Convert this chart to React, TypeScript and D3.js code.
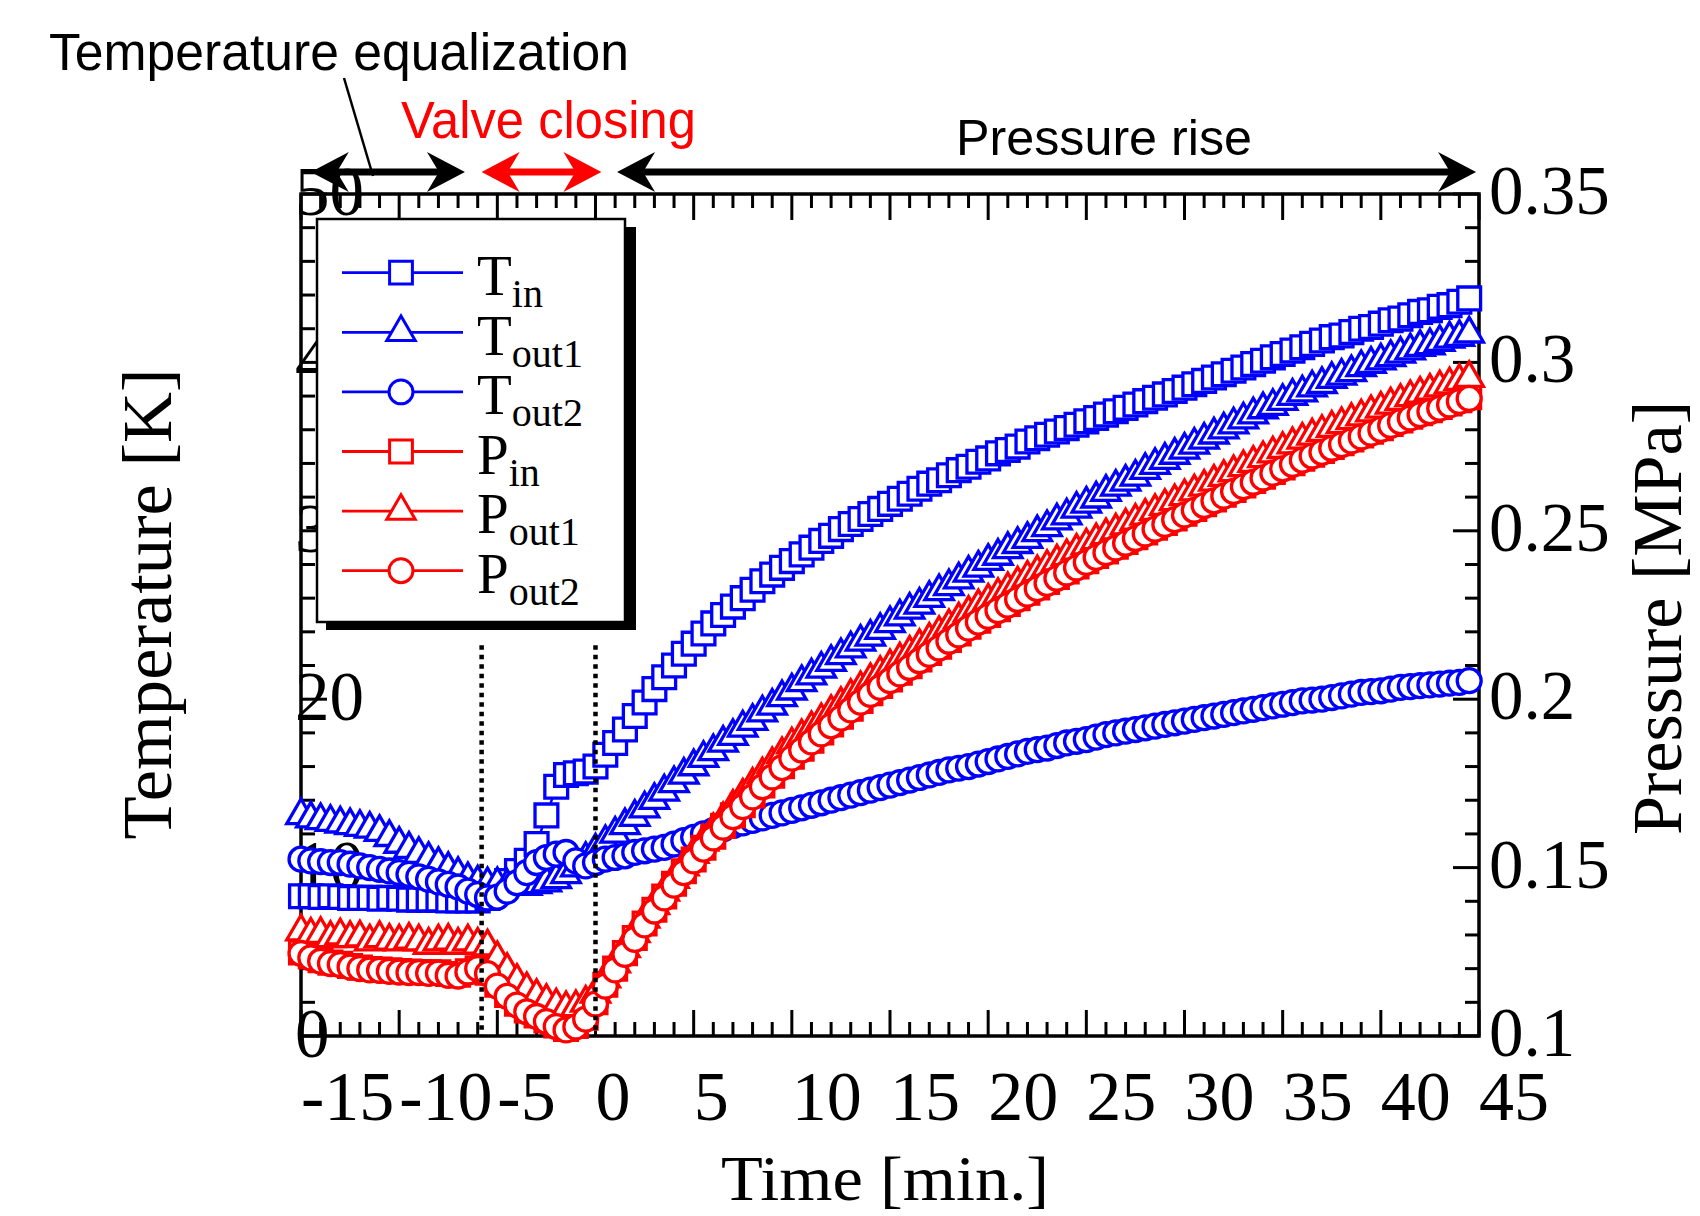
import React, { useEffect, useRef } from "react";
import * as d3 from "d3";

// time [min.], sampled every 30 s
const times = [
  -15, -14.5, -14, -13.5, -13, -12.5, -12, -11.5, -11, -10.5,
  -10, -9.5, -9, -8.5, -8, -7.5, -7, -6.5, -6, -5.5,
  -5, -4.5, -4, -3.5, -3, -2.5, -2, -1.5, -1, -0.5,
  0, 0.5, 1, 1.5, 2, 2.5, 3, 3.5, 4, 4.5,
  5, 5.5, 6, 6.5, 7, 7.5, 8, 8.5, 9, 9.5,
  10, 10.5, 11, 11.5, 12, 12.5, 13, 13.5, 14, 14.5,
  15, 15.5, 16, 16.5, 17, 17.5, 18, 18.5, 19, 19.5,
  20, 20.5, 21, 21.5, 22, 22.5, 23, 23.5, 24, 24.5,
  25, 25.5, 26, 26.5, 27, 27.5, 28, 28.5, 29, 29.5,
  30, 30.5, 31, 31.5, 32, 32.5, 33, 33.5, 34, 34.5,
  35, 35.5, 36, 36.5, 37, 37.5, 38, 38.5, 39, 39.5,
  40, 40.5, 41, 41.5, 42, 42.5, 43, 43.5, 44, 44.5,
];

// temperatures [K]
const tIn = [
  8.3, 8.3, 8.25, 8.3, 8.25, 8.2, 8.2, 8.2, 8.15, 8.2,
  8.15, 8.1, 8.1, 8.1, 8.1, 8.05, 8.05, 8.05, 8.05, 8.2,
  8.6, 9.2, 9.8, 10.4, 11.4, 13.1, 14.8, 15.5, 15.6, 15.7,
  16.0, 16.7, 17.4, 18.2, 19.0, 19.8, 20.6, 21.3, 22.0, 22.7,
  23.3, 23.9, 24.5, 25.0, 25.5, 26.0, 26.5, 27.0, 27.4, 27.8,
  28.2, 28.6, 29.0, 29.4, 29.7, 30.1, 30.4, 30.7, 31.0, 31.3,
  31.6, 31.9, 32.2, 32.5, 32.8, 33.0, 33.3, 33.6, 33.8, 34.1,
  34.3, 34.6, 34.8, 35.0, 35.3, 35.5, 35.7, 35.9, 36.1, 36.3,
  36.5, 36.7, 36.9, 37.1, 37.3, 37.5, 37.7, 37.9, 38.1, 38.3,
  38.5, 38.7, 38.9, 39.1, 39.3, 39.5, 39.7, 39.9, 40.1, 40.3,
  40.5, 40.7, 40.9, 41.1, 41.3, 41.5, 41.6, 41.8, 42.0, 42.1,
  42.3, 42.5, 42.6, 42.8, 43.0, 43.1, 43.3, 43.4, 43.6, 43.8,
];
const tOut1 = [
  13.1, 12.9, 12.8, 12.7, 12.6, 12.5, 12.4, 12.3, 12.1, 11.8,
  11.4, 11.1, 10.8, 10.5, 10.2, 9.9, 9.6, 9.3, 9.1, 9.0,
  9.0, 8.9, 8.9, 8.9, 9.0, 9.1, 9.3, 9.6, 10.0, 10.5,
  11.0, 11.5, 12.0, 12.5, 13.0, 13.5, 14.0, 14.5, 15.0, 15.5,
  16.0, 16.5, 16.9, 17.4, 17.8, 18.3, 18.7, 19.2, 19.6, 20.1,
  20.5, 21.0, 21.4, 21.8, 22.2, 22.6, 23.0, 23.4, 23.7, 24.1,
  24.5, 24.9, 25.3, 25.6, 26.0, 26.4, 26.7, 27.1, 27.5, 27.8,
  28.2, 28.5, 28.9, 29.2, 29.5, 29.9, 30.2, 30.6, 30.9, 31.3,
  31.6, 31.9, 32.3, 32.6, 32.9, 33.2, 33.6, 33.9, 34.2, 34.5,
  34.8, 35.1, 35.4, 35.7, 36.0, 36.3, 36.6, 36.9, 37.2, 37.4,
  37.7, 38.0, 38.2, 38.5, 38.7, 39.0, 39.2, 39.4, 39.7, 39.9,
  40.1, 40.3, 40.5, 40.7, 40.9, 41.0, 41.2, 41.4, 41.5, 41.7,
];
const tOut2 = [
  10.5, 10.4, 10.35, 10.3, 10.3, 10.2, 10.1, 10.0, 9.9, 9.8,
  9.7, 9.6, 9.45, 9.3, 9.15, 9.0, 8.85, 8.6, 8.4, 8.2,
  8.25, 8.6, 9.1, 9.7, 10.3, 10.6, 10.8, 10.9, 10.4, 10.1,
  10.3, 10.5, 10.6, 10.7, 10.9, 11.0, 11.1, 11.2, 11.4, 11.6,
  11.8, 12.0, 12.2, 12.3, 12.5, 12.65, 12.8, 12.95, 13.1, 13.25,
  13.4, 13.55, 13.7, 13.85, 14.0, 14.15, 14.3, 14.45, 14.6, 14.75,
  14.9, 15.05, 15.2, 15.35, 15.5, 15.65, 15.8, 15.9, 16.0, 16.15,
  16.3, 16.45, 16.6, 16.75, 16.9, 17.0, 17.1, 17.25, 17.4, 17.5,
  17.6, 17.75, 17.9, 18.0, 18.1, 18.2, 18.3, 18.4, 18.5, 18.6,
  18.7, 18.8, 18.9, 19.0, 19.1, 19.2, 19.3, 19.4, 19.5, 19.6,
  19.7, 19.8, 19.9, 19.95, 20.0, 20.1, 20.2, 20.3, 20.4, 20.45,
  20.5, 20.6, 20.7, 20.75, 20.8, 20.85, 20.9, 20.95, 21.0, 21.1,
];

// pressures [MPa]
const pIn = [
  0.1248, 0.1236, 0.1225, 0.1218, 0.1214, 0.1208, 0.1203, 0.1199, 0.1197, 0.1195,
  0.1193, 0.1191, 0.119, 0.1189, 0.1189, 0.1184, 0.1182, 0.1192, 0.1201, 0.1188,
  0.1152, 0.1122, 0.1096, 0.1076, 0.1061, 0.1046, 0.1031, 0.1021, 0.103, 0.1054,
  0.11, 0.1152, 0.12, 0.1246, 0.1291, 0.1334, 0.1375, 0.1414, 0.1452, 0.1489,
  0.1524, 0.1559, 0.1592, 0.1624, 0.1655, 0.1685, 0.1714, 0.1744, 0.1773, 0.1801,
  0.1829, 0.1853, 0.1877, 0.1901, 0.1925, 0.1948, 0.1972, 0.1995, 0.2018, 0.2039,
  0.2059, 0.2079, 0.2098, 0.2118, 0.2137, 0.2156, 0.2176, 0.2195, 0.2215, 0.2233,
  0.225, 0.2267, 0.2283, 0.23, 0.2316, 0.2332, 0.2348, 0.2363, 0.2379, 0.2394,
  0.241, 0.2425, 0.2439, 0.2453, 0.2467, 0.2481, 0.2495, 0.2509, 0.2523, 0.2537,
  0.2551, 0.2565, 0.2579, 0.2593, 0.2607, 0.2621, 0.2635, 0.2648, 0.2661, 0.2675,
  0.2688, 0.2701, 0.2714, 0.2726, 0.2737, 0.2749, 0.276, 0.2771, 0.2783, 0.2794,
  0.2805, 0.2817, 0.2828, 0.2839, 0.2849, 0.2858, 0.2868, 0.2878, 0.2888, 0.2897,
];
const pOut1 = [
  0.131, 0.13, 0.1302, 0.129, 0.1298, 0.129, 0.1292, 0.128, 0.129, 0.1282,
  0.128, 0.1285, 0.128, 0.127, 0.128, 0.1282, 0.127, 0.128, 0.127, 0.1265,
  0.123, 0.1195, 0.1163, 0.1138, 0.1118, 0.1103, 0.109, 0.1082, 0.1085, 0.1098,
  0.1125, 0.117, 0.1215, 0.126, 0.1305, 0.1348, 0.1388, 0.1428, 0.1466, 0.1503,
  0.154, 0.1576, 0.161, 0.1643, 0.168, 0.1713, 0.1745, 0.1776, 0.1806, 0.1836,
  0.1865, 0.1889, 0.1913, 0.1937, 0.1961, 0.1985, 0.2009, 0.2032, 0.2056, 0.2077,
  0.2097, 0.2117, 0.2137, 0.2157, 0.2176, 0.2196, 0.2216, 0.2236, 0.2256, 0.2275,
  0.2292, 0.2309, 0.2326, 0.2343, 0.236, 0.2376, 0.2392, 0.2408, 0.2424, 0.244,
  0.2456, 0.2471, 0.2486, 0.25, 0.2515, 0.2529, 0.2544, 0.2558, 0.2573, 0.2587,
  0.2602, 0.2616, 0.263, 0.2645, 0.2659, 0.2673, 0.2688, 0.2701, 0.2715, 0.2729,
  0.2742, 0.2756, 0.277, 0.2782, 0.2793, 0.2805, 0.2816, 0.2828, 0.2839, 0.2851,
  0.2862, 0.2874, 0.2885, 0.2896, 0.2906, 0.2915, 0.2925, 0.2934, 0.2944, 0.2953,
];
const pOut2 = [
  0.1245, 0.1232, 0.1222, 0.1215, 0.1212, 0.1205, 0.12, 0.1196, 0.1195, 0.1192,
  0.119, 0.1188, 0.1188, 0.1186, 0.1187, 0.118, 0.1178, 0.119, 0.12, 0.1185,
  0.1148, 0.1118, 0.1092, 0.1072, 0.1058, 0.1043, 0.1028, 0.1018, 0.1027, 0.105,
  0.1095, 0.1148, 0.1196, 0.1242, 0.1287, 0.133, 0.1371, 0.141, 0.1448, 0.1485,
  0.152, 0.1555, 0.1588, 0.162, 0.1651, 0.1681, 0.171, 0.174, 0.1769, 0.1797,
  0.1825, 0.1849, 0.1873, 0.1897, 0.1921, 0.1944, 0.1968, 0.1991, 0.2014, 0.2035,
  0.2055, 0.2075, 0.2094, 0.2114, 0.2133, 0.2152, 0.2172, 0.2191, 0.2211, 0.2229,
  0.2246, 0.2263, 0.2279, 0.2296, 0.2312, 0.2328, 0.2344, 0.2359, 0.2375, 0.239,
  0.2406, 0.2421, 0.2435, 0.2449, 0.2463, 0.2477, 0.2491, 0.2505, 0.2519, 0.2533,
  0.2547, 0.2561, 0.2575, 0.2589, 0.2603, 0.2617, 0.2631, 0.2644, 0.2657, 0.2671,
  0.2684, 0.2697, 0.271, 0.2722, 0.2733, 0.2745, 0.2756, 0.2767, 0.2779, 0.279,
  0.2801, 0.2813, 0.2824, 0.2835, 0.2845, 0.2854, 0.2864, 0.2874, 0.2884, 0.2893,
];

const xTickLabels = [-15, -10, -5, 0, 5, 10, 15, 20, 25, 30, 35, 40, 45];
const tempTickLabels = [0, 10, 20, 30, 40, 50];
const presTickLabels = [0.1, 0.15, 0.2, 0.25, 0.3, 0.35];

// phase boundaries [min.] for the arrows above the plot
const phases = [
  { label: "Temperature equalization", from: -14.5, to: -6.65, color: "#000000" },
  { label: "Valve closing", from: -5.8, to: 0.3, color: "#ff0000" },
  { label: "Pressure rise", from: 1.1, to: 44.85, color: "#000000" },
];
const dottedTimes = [-5.8, 0];

const BLUE = "#0000ff";
const RED = "#ff0000";
const SERIF = "'Liberation Serif', 'Times New Roman', Times, serif";
const SANS = "'Liberation Sans', Arial, Helvetica, sans-serif";

const series = [
  { main: "T", sub: "in", values: tIn, color: BLUE, shape: "square", axis: "T" },
  { main: "T", sub: "out1", values: tOut1, color: BLUE, shape: "triangle", axis: "T" },
  { main: "T", sub: "out2", values: tOut2, color: BLUE, shape: "circle", axis: "T" },
  { main: "P", sub: "in", values: pIn, color: RED, shape: "square", axis: "P" },
  { main: "P", sub: "out1", values: pOut1, color: RED, shape: "triangle", axis: "P" },
  { main: "P", sub: "out2", values: pOut2, color: RED, shape: "circle", axis: "P" },
];

const symbols = {
  square: d3.symbol().type(d3.symbolSquare).size(520)(),
  triangle: d3.symbol().type(d3.symbolTriangle).size(350)(),
  circle: d3.symbol().type(d3.symbolCircle).size(450)(),
};

function headPath(tx: number, ty: number, dir: number) {
  const L = 38, Wh = 20, N = 12;
  return `M${tx},${ty} L${tx - dir * L},${ty - Wh} L${tx - dir * (L - N)},${ty} L${tx - dir * L},${ty + Wh} Z`;
}

export default function App() {
  const ref = useRef<SVGSVGElement>(null);

  useEffect(() => {
    drawChart();
  }, []);

  const drawChart = () => {
    const svg = d3.select(ref.current);
    svg.selectAll("*").remove();

    const left = 301, right = 1479, top = 194, bottom = 1036;
    const x = d3.scaleLinear().domain([-15, 45]).range([left, right]);
    const yT = d3.scaleLinear().domain([0, 50]).range([bottom, top]);
    const yP = d3.scaleLinear().domain([0.1, 0.35]).range([bottom, top]);

    svg.append("rect").attr("width", 1700).attr("height", 1216).attr("fill", "#ffffff");

    // tick labels (drawn first, the data and legend sit over them)
    svg
      .selectAll(".xlab")
      .data(xTickLabels)
      .enter()
      .append("text")
      .attr("x", (d) => x(d))
      .attr("y", 1120)
      .attr("font-family", SERIF)
      .attr("font-size", 70)
      .text((d) => String(d));
    svg
      .selectAll(".tlab")
      .data(tempTickLabels)
      .enter()
      .append("text")
      .attr("x", 295)
      .attr("y", (d) => yT(d) + 21)
      .attr("font-family", SERIF)
      .attr("font-size", 69)
      .text((d) => String(d));
    svg
      .selectAll(".plab")
      .data(presTickLabels)
      .enter()
      .append("text")
      .attr("x", right + 10)
      .attr("y", (d) => yP(d) + 20)
      .attr("font-family", SERIF)
      .attr("font-size", 69)
      .text((d) => String(d));

    // axis titles
    svg
      .append("text")
      .attr("x", 885)
      .attr("y", 1200)
      .attr("text-anchor", "middle")
      .attr("font-family", SERIF)
      .attr("font-size", 64)
      .attr("textLength", 328)
      .attr("lengthAdjust", "spacingAndGlyphs")
      .text("Time [min.]");
    svg
      .append("text")
      .attr("transform", "translate(171,604) rotate(-90)")
      .attr("text-anchor", "middle")
      .attr("font-family", SERIF)
      .attr("font-size", 69)
      .attr("textLength", 471)
      .attr("lengthAdjust", "spacingAndGlyphs")
      .text("Temperature [K]");
    svg
      .append("text")
      .attr("transform", "translate(1681,618) rotate(-90)")
      .attr("text-anchor", "middle")
      .attr("font-family", SERIF)
      .attr("font-size", 69)
      .attr("textLength", 434)
      .attr("lengthAdjust", "spacingAndGlyphs")
      .text("Pressure [MPa]");

    // frame and inward ticks
    const g = svg.append("g").attr("stroke", "#000000").attr("stroke-width", 3);
    d3.range(-15, 45.001, 1).forEach((v) => {
      const major = Math.abs(Math.round(v + 15) % 5) === 0;
      const len = major ? 26 : 14;
      g.append("line").attr("x1", x(v)).attr("x2", x(v)).attr("y1", bottom).attr("y2", bottom - len);
      g.append("line").attr("x1", x(v)).attr("x2", x(v)).attr("y1", top).attr("y2", top + len);
    });
    d3.range(0, 50.001, 2).forEach((v) => {
      const major = Math.round(v) % 10 === 0;
      const len = major ? 26 : 14;
      g.append("line").attr("x1", left).attr("x2", left + len).attr("y1", yT(v)).attr("y2", yT(v));
      g.append("line").attr("x1", right).attr("x2", right - len).attr("y1", yT(v)).attr("y2", yT(v));
    });
    svg
      .append("rect")
      .attr("x", left)
      .attr("y", top)
      .attr("width", right - left)
      .attr("height", bottom - top)
      .attr("fill", "none")
      .attr("stroke", "#000000")
      .attr("stroke-width", 3.5);

    // series
    series.forEach((s) => {
      const yy = s.axis === "T" ? yT : yP;
      const line = d3
        .line<number>()
        .x((d, i) => x(times[i]))
        .y((d) => yy(d));
      svg
        .append("path")
        .datum(s.values)
        .attr("d", line)
        .attr("fill", "none")
        .attr("stroke", s.color)
        .attr("stroke-width", 2.5);
      svg
        .append("g")
        .selectAll("path")
        .data(s.values)
        .enter()
        .append("path")
        .attr("d", symbols[s.shape])
        .attr("transform", (d, i) => `translate(${x(times[i])},${yy(d)})`)
        .attr("fill", "#ffffff")
        .attr("stroke", s.color)
        .attr("stroke-width", 3.3);
    });

    // dotted phase boundaries
    dottedTimes.forEach((t) => {
      svg
        .append("line")
        .attr("x1", x(t))
        .attr("x2", x(t))
        .attr("y1", yT(23.2))
        .attr("y2", bottom)
        .attr("stroke", "#000000")
        .attr("stroke-width", 4.5)
        .attr("stroke-dasharray", "4.5,5");
    });

    // legend
    svg.append("rect").attr("x", 326).attr("y", 227).attr("width", 310).attr("height", 403).attr("fill", "#000000");
    svg
      .append("rect")
      .attr("x", 317)
      .attr("y", 219)
      .attr("width", 308)
      .attr("height", 403)
      .attr("fill", "#ffffff")
      .attr("stroke", "#000000")
      .attr("stroke-width", 2.5);
    series.forEach((s, i) => {
      const ry = 272.7 + i * 59.6;
      svg
        .append("line")
        .attr("x1", 342)
        .attr("x2", 463)
        .attr("y1", ry)
        .attr("y2", ry)
        .attr("stroke", s.color)
        .attr("stroke-width", 2.8);
      svg
        .append("path")
        .attr("d", symbols[s.shape])
        .attr("transform", `translate(401,${ry})`)
        .attr("fill", "#ffffff")
        .attr("stroke", s.color)
        .attr("stroke-width", 3);
      const t = svg
        .append("text")
        .attr("x", 477)
        .attr("y", ry + 22.3)
        .attr("font-family", SERIF)
        .attr("font-size", 57);
      t.append("tspan").text(s.main);
      t.append("tspan").attr("font-size", 40).attr("dy", 12).text(s.sub);
    });

    // phase arrows and labels
    const ay = 172;
    phases.forEach((p) => {
      const x0 = x(p.from), x1 = x(p.to);
      svg
        .append("line")
        .attr("x1", x0 + 26)
        .attr("x2", x1 - 26)
        .attr("y1", ay)
        .attr("y2", ay)
        .attr("stroke", p.color)
        .attr("stroke-width", 7);
      svg.append("path").attr("d", headPath(x0, ay, -1)).attr("fill", p.color);
      svg.append("path").attr("d", headPath(x1, ay, 1)).attr("fill", p.color);
    });
    svg
      .append("text")
      .attr("x", 49)
      .attr("y", 70)
      .attr("font-family", SANS)
      .attr("font-size", 51)
      .attr("textLength", 580)
      .attr("lengthAdjust", "spacingAndGlyphs")
      .text(phases[0].label);
    svg
      .append("text")
      .attr("x", 401)
      .attr("y", 138)
      .attr("font-family", SANS)
      .attr("font-size", 51)
      .attr("fill", RED)
      .attr("textLength", 295)
      .attr("lengthAdjust", "spacingAndGlyphs")
      .text(phases[1].label);
    svg
      .append("text")
      .attr("x", 956)
      .attr("y", 155)
      .attr("font-family", SANS)
      .attr("font-size", 50)
      .attr("textLength", 296)
      .attr("lengthAdjust", "spacingAndGlyphs")
      .text(phases[2].label);
    svg
      .append("line")
      .attr("x1", 344)
      .attr("y1", 78)
      .attr("x2", 373)
      .attr("y2", 176)
      .attr("stroke", "#000000")
      .attr("stroke-width", 2.5);
  };

  return (
    <svg
      ref={ref}
      width={1700}
      height={1216}
      style={{ position: "absolute", left: 0, top: 0, display: "block" }}
    />
  );
}
